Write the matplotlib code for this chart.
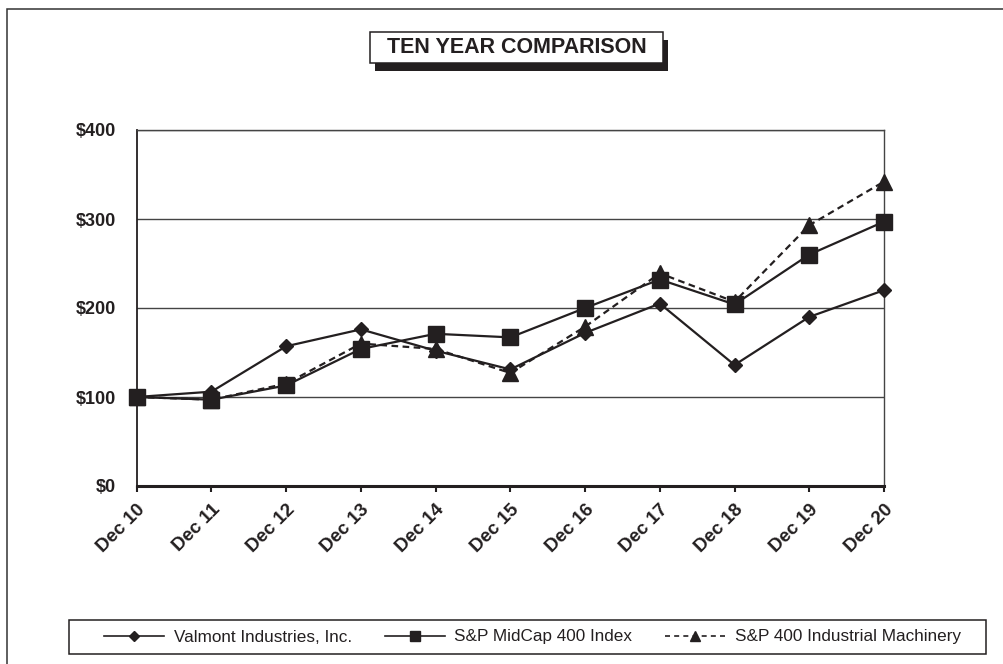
import numpy as np
import matplotlib
matplotlib.use("Agg")
import matplotlib.pyplot as plt
from matplotlib.lines import Line2D
from matplotlib.patches import Rectangle

plt.rcParams["font.family"] = ["Liberation Sans", "DejaVu Sans"]

# data (value of $100 invested at Dec 10)
years = ["Dec 10", "Dec 11", "Dec 12", "Dec 13", "Dec 14", "Dec 15",
         "Dec 16", "Dec 17", "Dec 18", "Dec 19", "Dec 20"]
valmont = [100, 106, 157, 176, 152, 131, 172, 205, 136, 190, 220]
midcap = [100, 97, 113, 154, 171, 167, 200, 232, 204, 260, 297]
machinery = [100, 97, 115, 160, 154, 127, 179, 239, 207, 293, 342]
y_ticks = [0, 100, 200, 300, 400]
series_names = ["Valmont Industries, Inc.", "S&P MidCap 400 Index",
                "S&P 400 Industrial Machinery"]

INK = "#231f20"
W, H = 1004, 664


def fx(px):
    return px / W


def fy(py):
    return 1 - py / H


fig = plt.figure(figsize=(W / 100, H / 100), dpi=100)
ax = fig.add_axes([fx(136.7), fy(486), fx(884) - fx(136.7), fy(130) - fy(486)])

x = np.arange(len(years))
ax.plot(x, machinery, color=INK, lw=1.6, ls=(0, (3, 2)), marker="^", ms=11,
        clip_on=False, zorder=3)
ax.plot(x, valmont, color=INK, lw=1.6, marker="D", ms=7.5, clip_on=False, zorder=4)
ax.plot(x, midcap, color=INK, lw=1.6, marker="s", ms=11, clip_on=False, zorder=5)

ax.set_xlim(0, len(years) - 1)
ax.set_ylim(0, 400)
ax.set_xticks(x)
ax.set_xticklabels(years, rotation=45, ha="right", va="top",
                   rotation_mode="anchor", fontsize=13.5, fontweight="bold", color=INK)
ax.set_yticks(y_ticks)
ax.set_yticklabels([f"${v}" for v in y_ticks], fontsize=13, fontweight="bold", color=INK)
ax.tick_params(axis="y", length=0, pad=15)
ax.tick_params(axis="x", length=4, width=1.5, color=INK, pad=7)
ax.yaxis.grid(True, color="#444444", lw=1)
ax.set_axisbelow(True)
for side in ["top", "right"]:
    ax.spines[side].set_color("#444444")
    ax.spines[side].set_linewidth(1)
ax.spines["left"].set_color(INK)
ax.spines["left"].set_linewidth(1.3)
ax.spines["bottom"].set_color(INK)
ax.spines["bottom"].set_linewidth(2.2)

# outer frame (only top and left edges fall inside the picture)
fig.patches.append(Rectangle((fx(7), -0.1), 1.2, fy(9) + 0.1, transform=fig.transFigure,
                             fill=False, ec="#333333", lw=1.1))

# title box with drop shadow
fig.patches.append(Rectangle((fx(375), fy(71)), fx(668) - fx(375), fy(40) - fy(71),
                             transform=fig.transFigure, fc=INK, ec="none"))
fig.patches.append(Rectangle((fx(370), fy(63)), fx(663) - fx(370), fy(32) - fy(63),
                             transform=fig.transFigure, fc="white", ec=INK, lw=1.1))
fig.text(fx(516.5), fy(47.5), "TEN YEAR COMPARISON", ha="center", va="center",
         fontsize=15.5, fontweight="bold", color=INK)

# legend: frame drawn separately so the entries can sit where they do in the original
fig.patches.append(Rectangle((fx(69), fy(654)), fx(986) - fx(69), fy(620) - fy(654),
                             transform=fig.transFigure, fill=False, ec=INK, lw=1.1))
handles = [
    Line2D([], [], color=INK, lw=1.2, marker="D", ms=5),
    Line2D([], [], color=INK, lw=1.2, marker="s", ms=6.5),
    Line2D([], [], color=INK, lw=1.2, ls=(0, (3, 2.5)), marker="^", ms=6.5),
]
leg = fig.legend(handles, series_names, loc="center left", ncol=3,
                 bbox_to_anchor=(fx(104), fy(637)), frameon=False,
                 borderaxespad=0, borderpad=0, fontsize=12.3,
                 handlelength=3.5, handletextpad=0.58, columnspacing=1.93,
                 numpoints=1)
for t in leg.get_texts():
    t.set_color(INK)

fig.savefig("out.png", dpi=100)
